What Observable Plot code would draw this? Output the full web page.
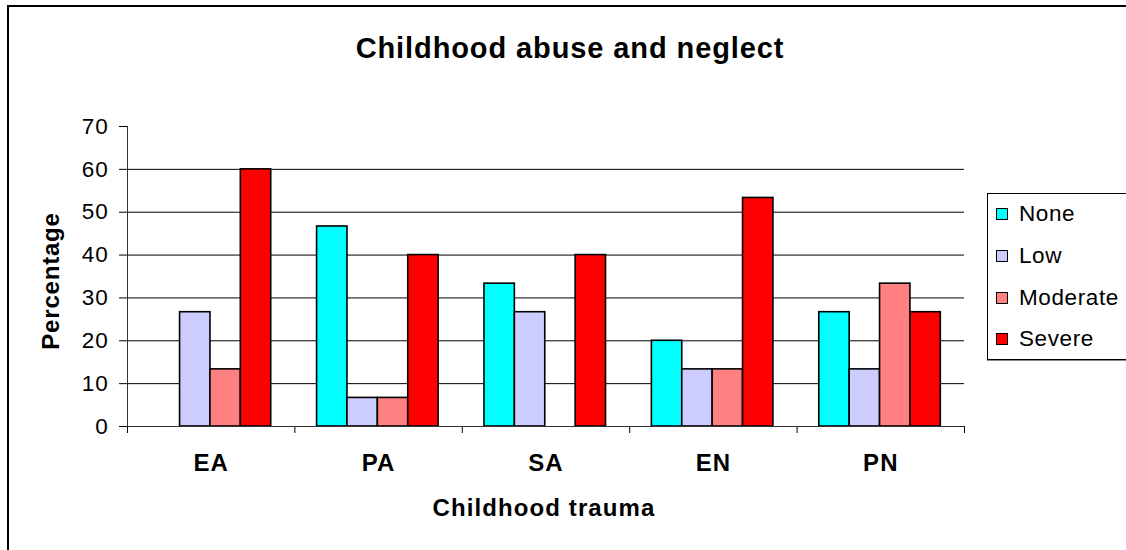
<!DOCTYPE html>
<html>
<head>
<meta charset="utf-8">
<script src="https://cdn.jsdelivr.net/npm/d3@7"></script>
<script src="https://cdn.jsdelivr.net/npm/@observablehq/plot@0.6"></script>
<style>
  html, body { margin: 0; padding: 0; background: #fff; overflow: hidden; }
  body { width: 1126px; height: 550px; position: relative; font-family: "Liberation Sans", Arial, sans-serif; }
  #chart { position: absolute; left: 0; top: 0; }
  #frame { position: absolute; left: 7px; top: 5px; width: 1200px; height: 600px; border: 2px solid #000; box-sizing: border-box; pointer-events: none; }
  .title { position: absolute; left: 570px; top: 34px; transform: translateX(-50%); font-size: 29px; line-height: 29px; font-weight: bold; letter-spacing: 0.9px; white-space: nowrap; color: #000; }
  .xtitle { position: absolute; left: 544px; top: 496px; transform: translateX(-50%); font-size: 24px; line-height: 24px; font-weight: bold; letter-spacing: 1.1px; white-space: nowrap; }
  .ytitle { position: absolute; left: 51px; top: 281px; transform: translate(-50%, -50%) rotate(-90deg); font-size: 24px; font-weight: bold; letter-spacing: 0.8px; white-space: nowrap; }
  #legend { position: absolute; left: 987px; top: 193px; width: 160px; height: 167px; border: 1px solid #000; box-shadow: 0 1px 0 #888; background: #fff; box-sizing: border-box; }
  .item { position: absolute; left: 8px; height: 24px; display: flex; align-items: center; font-size: 22.5px; letter-spacing: 0.6px; white-space: nowrap; }
  .sw { width: 12px; height: 12px; border: 1.5px solid #000; box-sizing: border-box; margin-right: 11px; }
  #chart g[aria-label="text"] text { letter-spacing: 1.1px; }
  #chart g[aria-label="y-axis tick label"] text, #chart g[aria-label="y-axis"] text { letter-spacing: 0.8px; }
</style>
</head>
<body>
<div id="chart"></div>
<div class="title">Childhood abuse and neglect</div>
<div class="ytitle">Percentage</div>
<div class="xtitle">Childhood trauma</div>
<div id="legend"></div>
<div id="frame"></div>
<script>
const categories = ["EA", "PA", "SA", "EN", "PN"];
const series = ["None", "Low", "Moderate", "Severe"];
const colors = ["#00FFFF", "#CCCCFF", "#FF8080", "#FF0000"];
const noneValues = [0, 46.67, 33.33, 20, 26.67];
const lowValues = [26.67, 6.67, 26.67, 13.33, 13.33];
const moderateValues = [13.33, 6.67, 0, 13.33, 33.33];
const severeValues = [60, 40, 40, 53.33, 26.67];
const yTicks = [0, 10, 20, 30, 40, 50, 60, 70];

const seriesValues = [noneValues, lowValues, moderateValues, severeValues];
// layout within each category slot (fractions of one category width)
const groupStart = 0.1325, barW = 0.1815;

const data = [];
categories.forEach((c, ci) => {
  series.forEach((s, si) => {
    data.push({cat: c, ci, series: s, si, value: seriesValues[si][ci]});
  });
});
const bars = data.filter(d => d.value > 0);

const chart = Plot.plot({
  width: 1126,
  height: 550,
  marginLeft: 127,
  marginRight: 162,
  marginTop: 126,
  marginBottom: 124,
  style: {background: "transparent", fontFamily: "'Liberation Sans', Arial, sans-serif", fontSize: "22.5px", color: "#000"},
  x: {domain: [0, categories.length], ticks: d3.range(categories.length + 1), tickFormat: () => "", tickSize: 7, label: null},
  y: {domain: [0, 70], ticks: yTicks, tickSize: 8, tickPadding: 11, label: null},
  color: {domain: series, range: colors},
  marks: [
    Plot.ruleY(yTicks.filter(t => t > 0 && t < 70), {stroke: "#000", strokeWidth: 1}),
    Plot.rectY(bars, {
      x1: d => d.ci + groupStart + d.si * barW,
      x2: d => d.ci + groupStart + (d.si + 1) * barW,
      y: "value",
      fill: "series",
      stroke: "#000",
      strokeWidth: 1.6
    }),
    Plot.ruleY([0], {stroke: "#333", strokeWidth: 1}),
    Plot.ruleX([0], {y1: 0, y2: 70, stroke: "#333", strokeWidth: 1}),
    Plot.text(categories, {x: (d, i) => i + 0.5, y: () => 0, text: d => d, dy: 37, lineAnchor: "middle", textAnchor: "middle", fontWeight: "bold", fontSize: 24, fill: "#000"})
  ]
});
document.getElementById("chart").appendChild(chart);

const legend = document.getElementById("legend");
const rowCenters = [20, 62, 103.5, 145];
series.forEach((s, i) => {
  const it = document.createElement("div");
  it.className = "item";
  it.style.top = (rowCenters[i] - 12) + "px";
  const sw = document.createElement("div");
  sw.className = "sw";
  sw.style.background = colors[i];
  const tx = document.createElement("span");
  tx.textContent = s;
  it.appendChild(sw);
  it.appendChild(tx);
  legend.appendChild(it);
});
</script>
</body>
</html>
